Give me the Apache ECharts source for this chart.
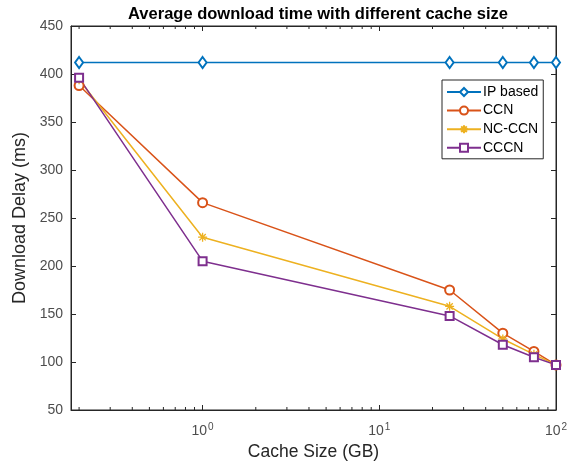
<!DOCTYPE html>
<html><head><meta charset="utf-8">
<script src="https://cdn.jsdelivr.net/npm/echarts@6/dist/echarts.min.js"></script>
<style>html,body{margin:0;padding:0;background:#fff}#c{width:580px;height:466px}</style>
</head><body><div id="c"></div>
<script>
const titleText = 'Average download time with different cache size';
const xName = 'Cache Size (GB)';
const yName = 'Download Delay (ms)';
const cacheSizes = [0.2, 1, 25, 50, 75, 100];
const ipBased = [412, 412, 412, 412, 412, 412];
const ccn = [388, 266, 175, 130, 111, 97];
const ncCcn = [394, 230, 158, 124, 108, 97];
const cccn = [396, 205, 148, 118, 105, 97];
const seriesNames = ['IP based', 'CCN', 'NC-CCN', 'CCCN'];
const yTicks = [50, 100, 150, 200, 250, 300, 350, 400, 450];
const xMinorTicks = [0.2,0.3,0.4,0.5,0.6,0.7,0.8,0.9,2,3,4,5,6,7,8,9,20,30,40,50,60,70,80,90];
const colors = ['#0072BD', '#D95319', '#EDB120', '#7E2F8E'];
const axisColor = '#262626';
const labelColor = '#4d4d4d';
const FONT = 'Liberation Sans, Arial, sans-serif';
const asterisk = 'path://M0,5L10,5M5,0L5,10M1.5,1.5L8.5,8.5M8.5,1.5L1.5,8.5';

const chart = echarts.init(document.getElementById('c'), null, {renderer: 'canvas'});
function pair(v) { return cacheSizes.map((x, i) => [x, v[i]]); }
function supLabel(val) {
  const e = Math.round(Math.log10(val));
  if (Math.abs(Math.log10(val) - e) > 1e-6) return '';
  return '{b|10}{s|' + e + '}';
}
const lineBase = (name, data, color, symbol, size) => ({
  name: name, type: 'line', data: data, symbol: symbol, symbolSize: size,
  showAllSymbol: true,
  lineStyle: {color: color, width: 1.5},
  itemStyle: {color: color, borderColor: color, borderWidth: 1.3},
  emphasis: {disabled: true}, animation: false, z: 3
});

chart.setOption({
  backgroundColor: '#fff',
  animation: false,
  title: {
    text: titleText, left: 313, top: 1, textAlign: 'center',
    textStyle: {fontFamily: FONT, fontSize: 16.5, fontWeight: 'bold', color: '#000'}
  },
  grid: {left: 71, right: 24, top: 26, bottom: 56, show: true, borderColor: axisColor, borderWidth: 1, backgroundColor: '#fff'},
  legend: {
    orient: 'vertical', left: 442, top: 80,
    data: seriesNames,
    itemWidth: 34, itemHeight: 10, itemGap: 4.6,
    padding: [5, 5, 4, 4],
    borderColor: axisColor, borderWidth: 1, backgroundColor: '#fff',
    textStyle: {fontFamily: FONT, fontSize: 14, color: '#000', padding: [0, 0, 0, -3]}
  },
  xAxis: [{
    type: 'log', logBase: 10, min: 0.18, max: 100, position: 'bottom',
    name: xName, nameLocation: 'middle', nameGap: 30,
    nameTextStyle: {fontFamily: FONT, fontSize: 17.5, color: axisColor},
    axisLine: {show: true, lineStyle: {color: axisColor, width: 1}},
    axisTick: {show: true, inside: true, length: 5, lineStyle: {color: axisColor}},
    minorTick: {show: false},
    splitLine: {show: false},
    axisLabel: {
      formatter: supLabel, margin: 12,
      rich: {
        b: {fontFamily: FONT, fontSize: 14, color: labelColor},
        s: {fontFamily: FONT, fontSize: 10, color: labelColor, verticalAlign: 'bottom', padding: [0, 0, 8, 1]}
      }
    }
  }, {
    type: 'log', logBase: 10, min: 0.18, max: 100, position: 'top',
    axisLine: {show: true, lineStyle: {color: axisColor, width: 1}},
    axisTick: {show: true, inside: true, length: 5, lineStyle: {color: axisColor}},
    axisLabel: {show: false}, splitLine: {show: false}
  }],
  yAxis: [{
    type: 'value', min: yTicks[0], max: yTicks[yTicks.length - 1], interval: 50, position: 'left',
    name: yName, nameLocation: 'middle', nameGap: 39,
    nameTextStyle: {fontFamily: FONT, fontSize: 18, color: axisColor},
    axisLine: {show: true, lineStyle: {color: axisColor, width: 1}},
    axisTick: {show: true, inside: true, length: 5, lineStyle: {color: axisColor}},
    splitLine: {show: false},
    axisLabel: {fontFamily: FONT, fontSize: 14, color: labelColor, margin: 8}
  }, {
    type: 'value', min: yTicks[0], max: yTicks[yTicks.length - 1], interval: 50, position: 'right',
    axisLine: {show: true, lineStyle: {color: axisColor, width: 1}},
    axisTick: {show: true, inside: true, length: 5, lineStyle: {color: axisColor}},
    splitLine: {show: false}, axisLabel: {show: false}
  }],
  series: [
    {
      type: 'custom', silent: true, z: 1, clip: false,
      data: xMinorTicks.map(v => [v]),
      encode: {x: 0},
      renderItem: function (params, api) {
        const v = api.value(0);
        const b = api.coord([v, yTicks[0]]);
        const t = api.coord([v, yTicks[yTicks.length - 1]]);
        const st = {stroke: axisColor, lineWidth: 1};
        return {type: 'group', children: [
          {type: 'line', shape: {x1: b[0], y1: b[1], x2: b[0], y2: b[1] - 3}, style: st},
          {type: 'line', shape: {x1: t[0], y1: t[1], x2: t[0], y2: t[1] + 3}, style: st}
        ]};
      }
    },
    lineBase(seriesNames[0], pair(ipBased), colors[0], 'emptyDiamond', [8, 11]),
    lineBase(seriesNames[1], pair(ccn), colors[1], 'emptyCircle', 9),
    lineBase(seriesNames[2], pair(ncCcn), colors[2], asterisk, 9),
    lineBase(seriesNames[3], pair(cccn), colors[3], 'emptyRect', 8)
  ]
});
</script>
</body></html>
